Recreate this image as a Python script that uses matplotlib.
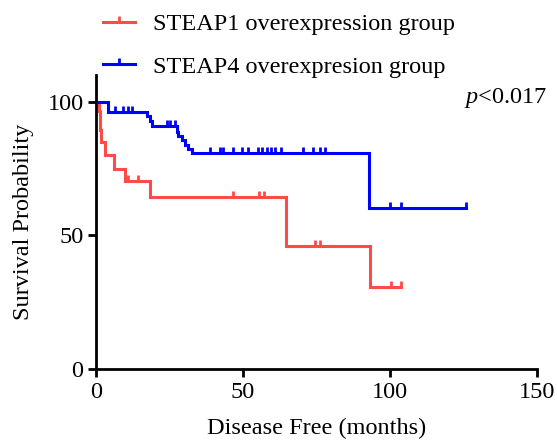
import matplotlib
matplotlib.use("Agg")
import matplotlib.pyplot as plt
import numpy as np
from matplotlib.lines import Line2D

# ---- data ----
steap1_times = [0, 1.0, 1.2, 1.4, 1.7, 3.2, 6.0, 9.8, 18.3, 64.7, 93.0]
steap1_surv = [100, 96.5, 93.0, 89.5, 85.0, 80.0, 75.0, 70.3, 64.5, 46.2, 30.9]
steap1_end = 103.8
steap1_censor = [11.0, 14.4, 46.6, 55.4, 57.1, 74.3, 76.0, 100.4, 103.8]

steap4_times = [0, 4.1, 17.2, 18.3, 18.9, 27.4, 27.9, 29.1, 30.2, 31.3, 32.5, 92.8]
steap4_surv = [100, 96.3, 94.6, 92.8, 90.8, 88.8, 87.2, 85.6, 84.0, 82.4, 80.7, 60.4]
steap4_end = 125.8
steap4_censor = [6.4, 9.3, 11.0, 12.1, 24.0, 25.1, 26.8,
                 38.7, 42.1, 43.2, 46.6, 49.5, 51.7, 55.0, 56.5, 58.0, 59.5,
                 61.0, 62.8, 70.4, 73.8, 76.0, 77.7, 100.1, 103.8, 125.8]

labels = ["STEAP1 overexpression group", "STEAP4 overexpresion group"]
colors = ["#FF4A4A", "#0000FF"]
xticks = [0, 50, 100, 150]
yticks = [0, 50, 100]
p_text = "<0.017"

plt.rcParams['font.family'] = ['Liberation Serif', 'DejaVu Serif']
plt.rcParams['mathtext.fontset'] = 'custom'
plt.rcParams['mathtext.rm'] = 'Liberation Serif'
plt.rcParams['mathtext.it'] = 'Liberation Serif:italic'

FS = 17.5

fig = plt.figure(figsize=(5.57, 4.46), dpi=100)
ax = fig.add_axes([0.1724, 0.172, 0.7922, 0.660])


def surv_at(times, surv, t):
    idx = np.searchsorted(times, t, side='right') - 1
    return surv[idx]


groups = [(steap1_times, steap1_surv, steap1_end, steap1_censor),
          (steap4_times, steap4_surv, steap4_end, steap4_censor)]
for (t, s, end, cens), col in zip(groups, colors):
    tt = list(t) + [end]
    ss = list(s) + [s[-1]]
    ax.step(tt, ss, where='post', color=col, lw=2.2, solid_joinstyle='miter')
    cy = [surv_at(t, s, c) for c in cens]
    ax.plot(cens, cy, linestyle='none', marker=2, markersize=4.5,
            markeredgewidth=2, color=col)

ax.set_xlim(0, 150)
ax.set_ylim(0, 110)
ax.set_xticks(xticks)
ax.set_yticks(yticks)
ax.set_xticklabels([str(v) for v in xticks], fontfamily='Liberation Serif')
ax.set_yticklabels([str(v) for v in yticks], fontfamily='Liberation Serif')
for sp in ['top', 'right']:
    ax.spines[sp].set_visible(False)
for sp in ['left', 'bottom']:
    ax.spines[sp].set_linewidth(2)
ax.tick_params(axis='both', width=2, length=6, labelsize=FS, pad=3)
ax.set_xlabel("Disease Free (months)", fontsize=FS, labelpad=11)
ax.set_ylabel("Survival Probability", fontsize=FS, labelpad=10)

ax.text(153.5, 101.5, r"$\it{p}$" + p_text, fontsize=FS, ha='right', va='center',
        transform=ax.transData, clip_on=False)

handles = [Line2D([0, 0.5, 1], [0, 0, 0], color=c, lw=2.2, marker=2,
                  markersize=4.5, markeredgewidth=2, markevery=[1])
           for c in colors]
leg = fig.legend(handles, labels, loc='upper left',
                 bbox_to_anchor=(103 / 557, 1 - 13 / 446),
                 frameon=False, fontsize=FS, borderpad=0, borderaxespad=0,
                 handlelength=1.3, handletextpad=0.75, labelspacing=0.85)

fig.savefig("out.png", dpi=100)
